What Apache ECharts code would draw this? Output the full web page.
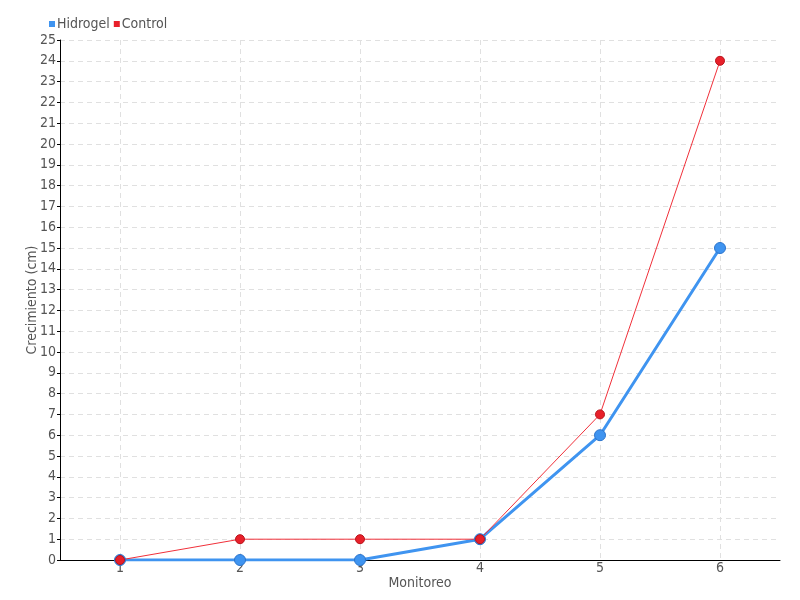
<!DOCTYPE html>
<html>
<head>
<meta charset="utf-8">
<script src="https://cdn.jsdelivr.net/npm/echarts@6/dist/echarts.min.js"></script>
<style>
  html, body { margin: 0; padding: 0; background: #fff; }
  #chart { width: 800px; height: 600px; }
</style>
</head>
<body>
<div id="chart"></div>
<script>
const categories = ["1", "2", "3", "4", "5", "6"];
const hidrogel = [0, 0, 0, 1, 6, 15];
const control = [0, 1, 1, 1, 7, 24];

const font = "DejaVu Sans Condensed";
const textColor = "#555";

let myChart = echarts.init(document.getElementById("chart"), null, { renderer: "canvas" });

let option = {
  animation: false,
  textStyle: { fontFamily: font },
  legend: {
    left: 44,
    top: 12,
    itemWidth: 6,
    itemHeight: 6,
    itemGap: 4,
    icon: "rect",
    itemStyle: { borderWidth: 0 },
    textStyle: { fontFamily: font, fontSize: 14, color: textColor, padding: [0, 0, 0, -3] },
    data: ["Hidrogel", "Control"]
  },
  grid: { left: 60, right: 20, top: 40, bottom: 40 },
  xAxis: {
    type: "category",
    data: categories,
    boundaryGap: true,
    name: "Monitoreo",
    nameLocation: "middle",
    nameGap: 16,
    nameMoveOverlap: false,
    nameTextStyle: { fontFamily: font, fontSize: 14, color: textColor },
    axisLine: { lineStyle: { color: "#000", width: 1 } },
    axisTick: { alignWithLabel: true, length: 4, lineStyle: { color: "#000" } },
    axisLabel: { fontFamily: font, fontSize: 14, color: textColor, margin: 1 },
    splitLine: { show: true, alignWithLabel: true, lineStyle: { color: "#e0e0e0", type: [5, 4] } }
  },
  yAxis: {
    type: "value",
    min: 0,
    max: 25,
    interval: 1,
    name: "Crecimiento (cm)",
    nameLocation: "middle",
    nameGap: 21,
    nameMoveOverlap: false,
    nameTextStyle: { fontFamily: font, fontSize: 14, color: textColor },
    axisLine: { show: true, lineStyle: { color: "#000", width: 1 } },
    axisTick: { show: true, length: 3, lineStyle: { color: "#000" } },
    axisLabel: { fontFamily: font, fontSize: 14, color: textColor, margin: 4 },
    splitLine: { show: true, lineStyle: { color: "#e0e0e0", type: [5, 4] } }
  },
  series: [
    {
      name: "Hidrogel",
      type: "line",
      data: hidrogel,
      color: "#3f94f0",
      symbol: "circle",
      symbolSize: 11,
      lineStyle: { width: 3, color: "#3f94f0" },
      itemStyle: { color: "#3f94f0", borderColor: "#2b74cc", borderWidth: 1 }
    },
    {
      name: "Control",
      type: "line",
      data: control,
      color: "#e8202a",
      symbol: "circle",
      symbolSize: 9,
      lineStyle: { width: 1, color: "#f0303a" },
      itemStyle: { color: "#e8202a", borderColor: "#b8141c", borderWidth: 1 }
    }
  ]
};

myChart.setOption(option);
window.addEventListener("resize", myChart.resize);
</script>
</body>
</html>
